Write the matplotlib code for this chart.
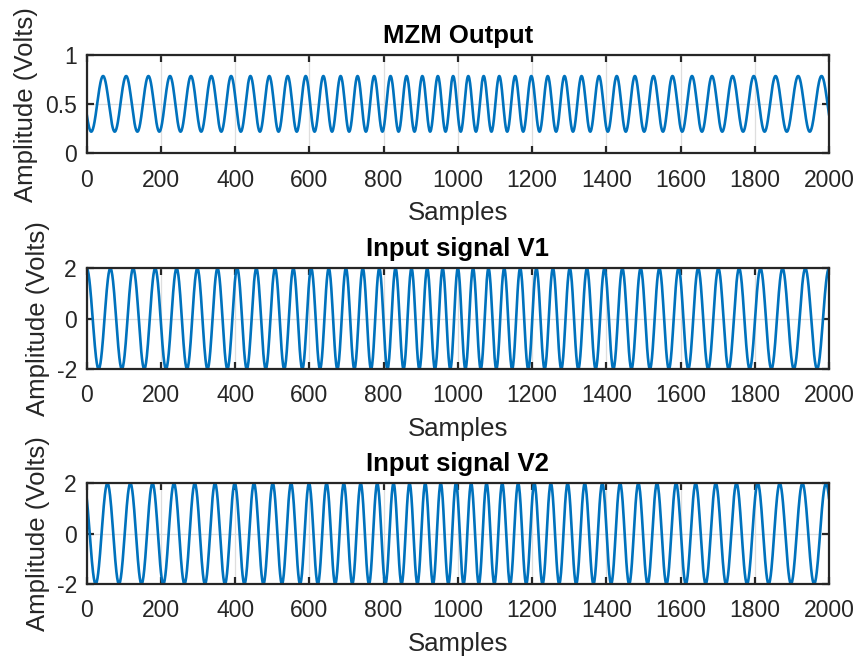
import numpy as np
import matplotlib
matplotlib.use("Agg")
import matplotlib.pyplot as plt

# ---- data ----
n_samples = 2000
# instantaneous frequency (cycles/sample) of the common carrier, at knots
chirp_knots = [0, 1000, 2000]
chirp_freq = [0.0154, 0.0246, 0.0154]
titles = ["MZM Output", "Input signal V1", "Input signal V2"]
# offset, amplitude, phase (deg) for each trace
offsets = [0.503, 0.0, 0.0]
amplitudes = [0.283, 2.0, 2.0]
phases_deg = [112.0, 0.0, 45.0]
ylims = [(0, 1), (-2, 2), (-2, 2)]
yticks = [[0, 0.5, 1], [-2, 0, 2], [-2, 0, 2]]
ytick_labels = [["0", "0.5", "1"], ["-2", "0", "2"], ["-2", "0", "2"]]
xticks = list(range(0, 2001, 200))

plt.rcParams['font.family'] = ['Liberation Sans', 'DejaVu Sans']
ink = '#262626'

x = np.arange(0, n_samples + 1)
f = np.interp(x, chirp_knots, chirp_freq)
phi = 2 * np.pi * np.concatenate([[0], np.cumsum((f[1:] + f[:-1]) / 2)])

fig = plt.figure(figsize=(8.6, 6.59), dpi=100)
rects = [
    (86.7, 55.0, 829.0, 153.3),
    (86.7, 268.3, 829.0, 369.0),
    (86.7, 483.3, 829.0, 584.0),
]
W, H = 860, 659
for i, (l, t, r, b) in enumerate(rects):
    ax = fig.add_axes([l / W, 1 - b / H, (r - l) / W, (b - t) / H])
    y = offsets[i] + amplitudes[i] * np.cos(phi + np.deg2rad(phases_deg[i]))
    ax.plot(x, y, color='#0072BD', lw=1.9)
    ax.set_xlim(0, n_samples)
    ax.set_ylim(*ylims[i])
    ax.set_xticks(xticks)
    ax.set_xticklabels([str(v) for v in xticks])
    ax.set_yticks(yticks[i])
    ax.set_yticklabels(ytick_labels[i])
    ax.grid(True, color='#dedede', lw=0.9)
    ax.set_axisbelow(True)
    for s in ax.spines.values():
        s.set_color(ink)
        s.set_linewidth(1.6)
    ax.tick_params(direction='in', length=5, width=1.6, color=ink,
                   labelcolor=ink, labelsize=16.5, top=True, right=True)
    ax.tick_params(axis='x', pad=11)
    ax.tick_params(axis='y', pad=7)
    ax.set_xlabel("Samples", fontsize=18.5, color=ink, labelpad=7)
    ax.set_ylabel("Amplitude (Volts)", fontsize=18.5, color=ink, labelpad=5)
    ax.set_title(titles[i], fontsize=18.5, fontweight='bold', color='black', pad=8.5)

fig.savefig("out.png", dpi=100)
